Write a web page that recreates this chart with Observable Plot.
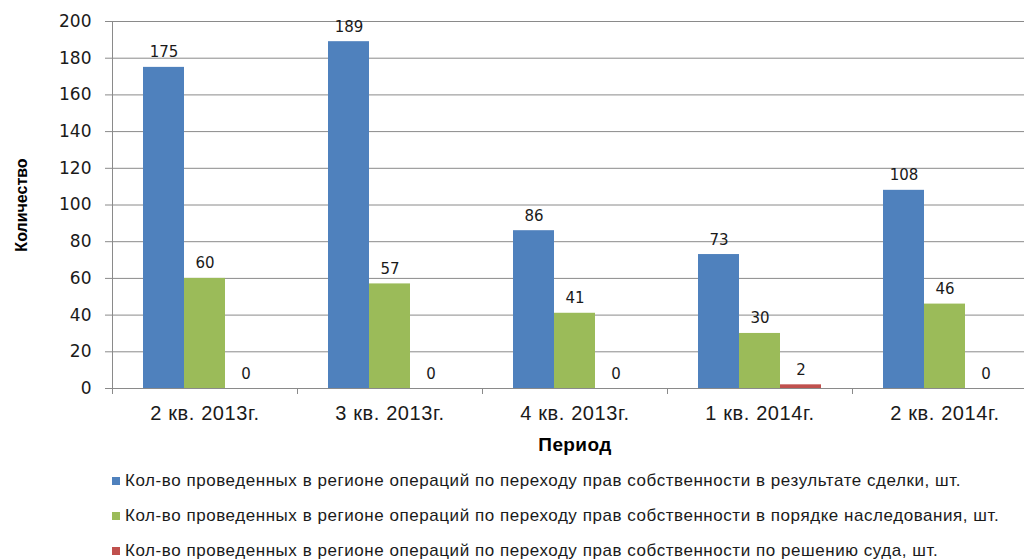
<!DOCTYPE html>
<html>
<head>
<meta charset="utf-8">
<script src="https://cdn.jsdelivr.net/npm/d3@7"></script>
<script src="https://cdn.jsdelivr.net/npm/@observablehq/plot@0.6"></script>
<style>
  html, body { margin: 0; padding: 0; background: #fff; width: 1024px; height: 559px; overflow: hidden; }
  #chart svg { display: block; }
  g[aria-label="y-axis tick label"] text { font-family: "DejaVu Sans", sans-serif; font-size: 17px; fill: #1a1a1a; }
  g[aria-label="fx-axis tick label"] text { font-family: "Liberation Sans", Arial, sans-serif; font-size: 20px; letter-spacing: 0.6px; fill: #1a1a1a; }
  g[aria-label="y-axis label"] text, g[aria-label="fx-axis label"] text { font-family: "Liberation Sans", Arial, sans-serif; font-weight: bold; fill: #000; }
  g[aria-label="y-axis label"] text { font-size: 16px; }
  g[aria-label="fx-axis label"] text { font-size: 19px; letter-spacing: 0.4px; }
  g[aria-label="text"] text { font-family: "DejaVu Sans", sans-serif; font-size: 15px; fill: #1a1a1a; }
  #legend { padding-top: 3px; font-family: "Liberation Sans", Arial, sans-serif; font-size: 17px; letter-spacing: 0.55px; color: #1a1a1a; white-space: nowrap; }
  #legend .item { height: 35px; display: flex; align-items: center; padding-left: 112px; }
  #legend .sw { width: 8px; height: 8px; margin-right: 5px; flex: none; }
</style>
</head>
<body>
<div id="chart"></div>
<div id="legend"></div>
<script>
const periods = ["2 кв. 2013г.", "3 кв. 2013г.", "4 кв. 2013г.", "1 кв. 2014г.", "2 кв. 2014г."];
const seriesNames = [
  "Кол-во проведенных в регионе операций по переходу прав собственности в результате сделки, шт.",
  "Кол-во проведенных в регионе операций по переходу прав собственности в порядке наследования, шт.",
  "Кол-во проведенных в регионе операций по переходу прав собственности по решению суда, шт."
];
const dealValues = [175, 189, 86, 73, 108];
const inheritValues = [60, 57, 41, 30, 46];
const courtValues = [0, 0, 0, 2, 0];
const seriesColors = ["#4F81BD", "#9BBB59", "#C0504D"];
const yTicks = [0, 20, 40, 60, 80, 100, 120, 140, 160, 180, 200];

const seriesValues = [dealValues, inheritValues, courtValues];
const rows = [];
periods.forEach((p, i) => {
  seriesNames.forEach((s, j) => rows.push({period: p, series: s, value: seriesValues[j][i]}));
});

const gray = "#8a8a8a";

const chart = Plot.plot({
  width: 1040,
  height: 460,
  marginLeft: 112,
  marginRight: 3,
  marginTop: 21,
  marginBottom: 72,
  style: {maxWidth: "none", background: "#fff"},
  fx: {domain: periods, padding: 0, label: null},
  x: {domain: seriesNames, paddingInner: 0, paddingOuter: 0.756, axis: null},
  y: {domain: [0, 200], label: null},
  color: {domain: seriesNames, range: seriesColors},
  marks: [
    Plot.gridY(yTicks, {stroke: gray, strokeOpacity: 1, strokeWidth: 1}),
    Plot.barY(rows, {fx: "period", x: "series", y: "value", fill: "series"}),
    Plot.ruleY([0], {stroke: gray, strokeWidth: 1}),
    Plot.text(rows, {fx: "period", x: "series", y: "value", text: d => String(d.value), lineAnchor: "bottom", dy: -10}),
    Plot.axisY(yTicks, {tickSize: 7, tickPadding: 14, stroke: gray, label: "Количество", labelAnchor: "center", labelOffset: 97, labelArrow: "none"}),
    Plot.axisFx({anchor: "bottom", tickSize: 0, tickPadding: 17, label: "Период", labelAnchor: "center", labelOffset: 62, labelArrow: "none"})
  ]
});

document.getElementById("chart").appendChild(chart);

// Axis line and category boundary tick marks, placed with the plot's own scales
const fx = chart.scale("fx");
const ys = chart.scale("y");
const y0 = ys.apply(0);
const g = d3.select(chart).append("g").attr("stroke", gray).attr("stroke-width", 1).attr("shape-rendering", "crispEdges");
const left = fx.apply(periods[0]);
g.append("line").attr("x1", left + 0.5).attr("x2", left + 0.5).attr("y1", ys.apply(200)).attr("y2", y0 + 6);
periods.forEach(p => {
  const x = fx.apply(p) + 0.5;
  g.append("line").attr("x1", x).attr("x2", x).attr("y1", y0).attr("y2", y0 + 6);
});
const right = fx.apply(periods[periods.length - 1]) + fx.bandwidth + 0.5;
g.append("line").attr("x1", right).attr("x2", right).attr("y1", y0).attr("y2", y0 + 6);

// Legend
const legend = d3.select("#legend");
seriesNames.forEach((s, i) => {
  const item = legend.append("div").attr("class", "item");
  item.append("span").attr("class", "sw").style("background", seriesColors[i]);
  item.append("span").text(s);
});
</script>
</body>
</html>
